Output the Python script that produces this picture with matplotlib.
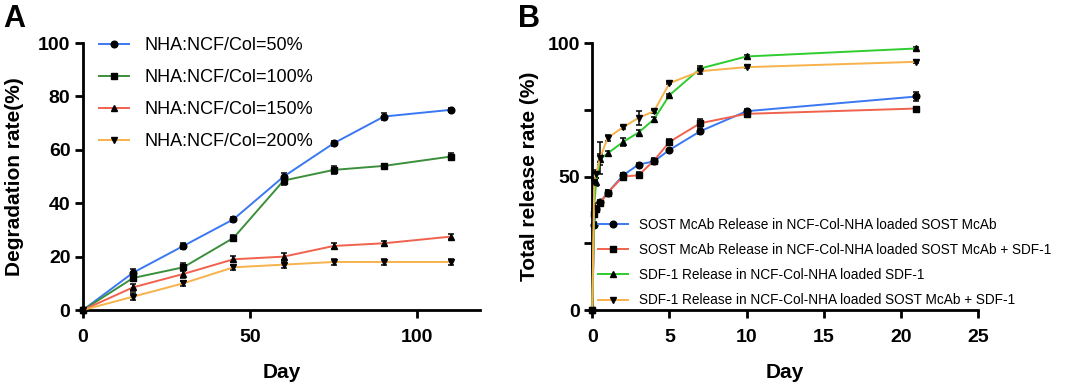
import matplotlib

matplotlib.use("Agg")
import matplotlib.pyplot as plt
from matplotlib.ticker import MultipleLocator

plt.rcParams["font.family"] = ["Liberation Sans", "DejaVu Sans"]

# Panel A: degradation
days_a = [0, 15, 30, 45, 60, 75, 90, 110]
labels_a = ["NHA:NCF/Col=50%", "NHA:NCF/Col=100%", "NHA:NCF/Col=150%", "NHA:NCF/Col=200%"]
deg_50 = [0, 14, 24, 34, 50, 62.5, 72.5, 75]
deg_100 = [0, 12, 16, 27, 48.5, 52.5, 54, 57.5]
deg_150 = [0, 8.5, 13.5, 19, 20, 24, 25, 27.5]
deg_200 = [0, 5, 10, 16, 17, 18, 18, 18]
err_50 = [0, 1.2, 1, 1, 1.2, 1, 1.2, 0.8]
err_100 = [0, 1, 1.5, 1, 1.5, 1.5, 0.8, 1.2]
err_150 = [0, 1.2, 1.5, 1.2, 1.2, 1, 1, 1]
err_200 = [0, 1.2, 1, 1, 1.2, 1, 1, 1]

# Panel B: release
days_b = [0, 0.125, 0.25, 0.5, 1, 2, 3, 4, 5, 7, 10, 21]
labels_b = [
    "SOST McAb Release in NCF-Col-NHA loaded SOST McAb",
    "SOST McAb Release in NCF-Col-NHA loaded SOST McAb + SDF-1",
    "SDF-1 Release in NCF-Col-NHA loaded SDF-1",
    "SDF-1 Release in NCF-Col-NHA loaded SOST McAb + SDF-1",
]
rel_sost = [0, 32, 38, 40.4, 44, 50.5, 54.5, 55.7, 60, 67, 74.5, 80]
rel_sost_sdf = [0, 36, 38, 40, 44, 50, 50.5, 56, 63, 70, 73.5, 75.5]
rel_sdf = [0, 39, 48, 56.5, 58.7, 63, 66.5, 71.5, 80.5, 90.5, 95, 98]
rel_sdf_sost = [0, 48, 51, 57, 64.5, 68.5, 72, 74.5, 85, 89.5, 91, 93]
rerr_sost = [0, 1, 1, 1, 1, 1, 0.5, 1, 0.5, 1, 1, 1.5]
rerr_sost_sdf = [0, 1, 1, 1, 1, 1.2, 1.2, 1, 1, 1.5, 1, 0.5]
rerr_sdf = [0, 1, 1.5, 2, 1, 1.5, 1, 1, 0.5, 1, 0.5, 0.5]
rerr_sdf_sost = [0, 1, 1.5, 6, 1, 0.5, 2.5, 0.5, 0.5, 1, 0.5, 0.5]

BLUE, RED, ORANGE = "#3a78f2", "#f0624d", "#f7b24a"
GREEN_A, GREEN_B = "#3b8f3b", "#2ecc2e"
MARKERS = ["o", "s", "^", "v"]

W, H = 1072, 384
fig = plt.figure(figsize=(W / 100, H / 100), dpi=100)
ax_a = fig.add_axes([0.0774, 0.1927, 0.370, 0.695])
ax_b = fig.add_axes([0.5525, 0.1927, 0.360, 0.695])


def draw(ax, x, ys, errs, colors, labels):
    for y, e, c, m, lab in zip(ys, errs, colors, MARKERS, labels):
        ax.errorbar(x, y, yerr=e, fmt="none", ecolor="black", elinewidth=1.1,
                    capsize=2.5, capthick=1.1, zorder=3)
        ax.plot(x, y, color=c, lw=1.4, marker=m, ms=4.8, mfc="black",
                mec="black", label=lab, zorder=4, clip_on=False)


def style(ax):
    for s in ("top", "right"):
        ax.spines[s].set_visible(False)
    for s in ("left", "bottom"):
        ax.spines[s].set_linewidth(2)
    ax.tick_params(which="major", direction="out", length=6, width=2,
                   labelsize=14, pad=3)
    ax.tick_params(axis="x", which="major", pad=8)
    ax.tick_params(which="minor", direction="out", length=6, width=2)
    for lab in ax.get_xticklabels() + ax.get_yticklabels():
        lab.set_fontweight("bold")
    ax.set_xlabel("Day", fontsize=15, fontweight="bold", labelpad=12)


draw(ax_a, days_a, [deg_50, deg_100, deg_150, deg_200],
     [err_50, err_100, err_150, err_200], [BLUE, GREEN_A, RED, ORANGE], labels_a)
ax_a.set_xlim(0, 118.6)
ax_a.set_ylim(0, 100)
ax_a.xaxis.set_major_locator(MultipleLocator(50))
ax_a.yaxis.set_major_locator(MultipleLocator(20))
style(ax_a)
ax_a.set_ylabel("Degradation rate(%)", fontsize=15, fontweight="bold", labelpad=10)
ax_a.legend(loc="upper left", bbox_to_anchor=(99 / W, (H - 37) / H),
            bbox_transform=fig.transFigure, frameon=False, borderpad=0,
            borderaxespad=0, fontsize=13, handlelength=1.66, handletextpad=0.88,
            labelspacing=0.84)

draw(ax_b, days_b, [rel_sost, rel_sost_sdf, rel_sdf, rel_sdf_sost],
     [rerr_sost, rerr_sost_sdf, rerr_sdf, rerr_sdf_sost],
     [BLUE, RED, GREEN_B, ORANGE], labels_b)
ax_b.set_xlim(0, 25)
ax_b.set_ylim(0, 100)
ax_b.xaxis.set_major_locator(MultipleLocator(5))
ax_b.yaxis.set_major_locator(MultipleLocator(50))
ax_b.yaxis.set_minor_locator(MultipleLocator(25))
style(ax_b)
ax_b.set_ylabel("Total release rate (%)", fontsize=15, fontweight="bold", labelpad=6)
ax_b.legend(loc="upper left", bbox_to_anchor=(598 / W, (H - 218) / H),
            bbox_transform=fig.transFigure, frameon=False, borderpad=0,
            borderaxespad=0, fontsize=9.8, handlelength=2.2, handletextpad=0.8,
            labelspacing=0.815)

fig.text(0.003, 0.93, "A", fontsize=22, fontweight="bold")
fig.text(0.483, 0.93, "B", fontsize=22, fontweight="bold")

fig.savefig("out.png", dpi=100)
